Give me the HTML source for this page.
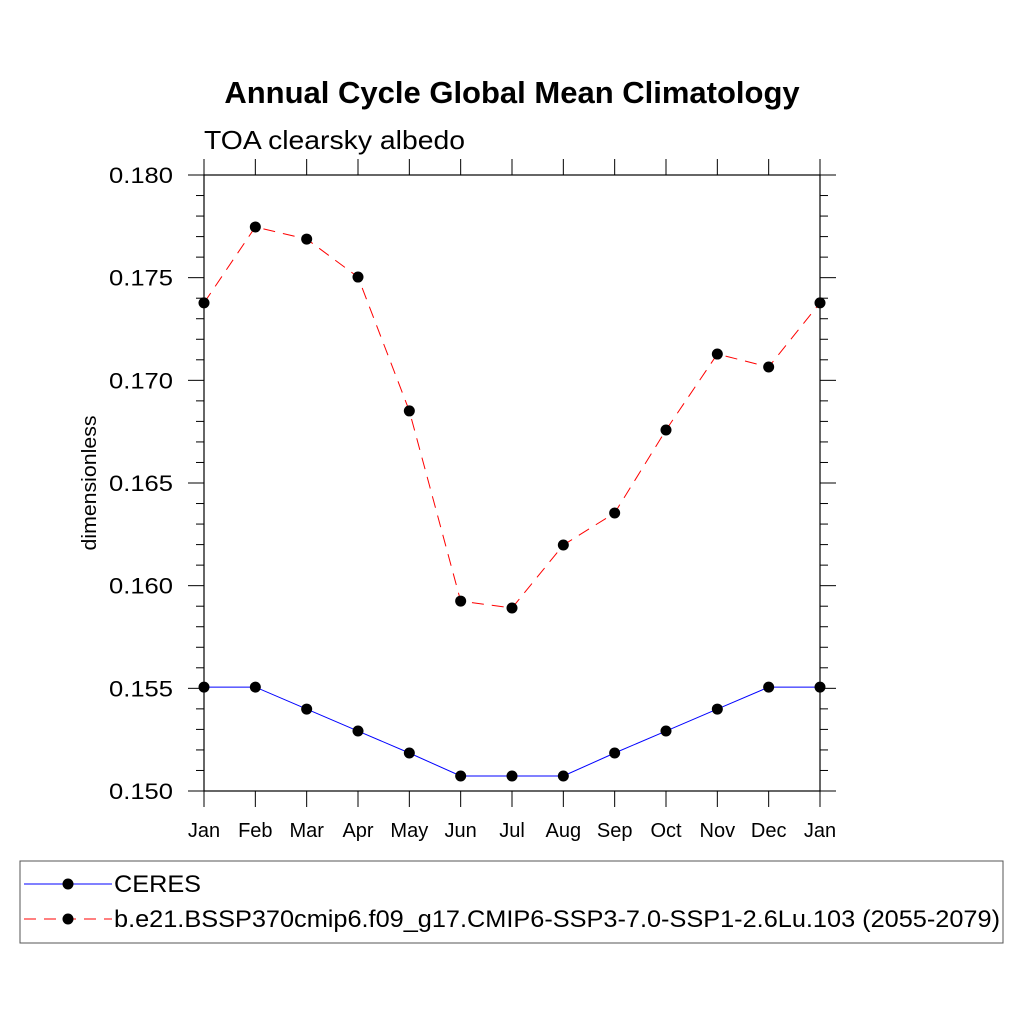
<!DOCTYPE html>
<html><head><meta charset="utf-8"><style>
body{margin:0;background:#fff;}
svg text{font-family:"Liberation Sans",sans-serif;}
</style></head><body>
<svg id="c" width="1024" height="1024" xmlns="http://www.w3.org/2000/svg">
<text x="512" y="103" text-anchor="middle" font-size="31" font-weight="bold">Annual Cycle Global Mean Climatology</text>
<text x="204" y="149" font-size="26" textLength="261" lengthAdjust="spacingAndGlyphs">TOA clearsky albedo</text>
<text transform="translate(96,483) rotate(-90)" text-anchor="middle" font-size="20" textLength="135" lengthAdjust="spacingAndGlyphs">dimensionless</text>
<rect x="204" y="175" width="616" height="616" fill="none" stroke="#000" stroke-width="1.2"/>
<g id="axes"></g>
<g id="series"></g>
<rect x="20" y="861" width="983" height="82" fill="none" stroke="#555" stroke-width="1"/>
<g>
<line x1="24" y1="884" x2="112" y2="884" stroke="#0000ff" stroke-width="1"/>
<circle cx="68" cy="884" r="5.5" fill="#000"/>
<text x="114" y="892" font-size="24" textLength="87" lengthAdjust="spacingAndGlyphs">CERES</text>
</g>
<g>
<line x1="24" y1="919" x2="112" y2="919" stroke="#ff0000" stroke-width="1" stroke-dasharray="12,8"/>
<circle cx="68" cy="919" r="5.5" fill="#000"/>
<text x="114" y="927" font-size="24" textLength="886" lengthAdjust="spacingAndGlyphs">b.e21.BSSP370cmip6.f09_g17.CMIP6-SSP3-7.0-SSP1-2.6Lu.103 (2055-2079)</text>
</g>
</svg>
<script>
const months=["Jan","Feb","Mar","Apr","May","Jun","Jul","Aug","Sep","Oct","Nov","Dec","Jan"];
const ceres=[0.15506,0.15506,0.15399,0.15292,0.15185,0.15073,0.15073,0.15073,0.15185,0.15292,0.15399,0.15506,0.15506];
const model=[0.17377,0.17747,0.17688,0.17503,0.16851,0.15925,0.15891,0.16198,0.16354,0.16758,0.17128,0.17065,0.17377];
const yTicks=["0.150","0.155","0.160","0.165","0.170","0.175","0.180"];
const NS="http://www.w3.org/2000/svg";
const X0=204,X1=820,Y0=791,Y1=175,ymin=0.150,ymax=0.180;
const xs=i=>X0+(X1-X0)*i/(months.length-1);
const ys=v=>Y0-(v-ymin)/(ymax-ymin)*(Y0-Y1);
function mk(t,a,p){const e=document.createElementNS(NS,t);for(const k in a)e.setAttribute(k,a[k]);p.appendChild(e);return e;}
const ax=document.getElementById('axes');
for(let k=0;k<=30;k++){const v=ymin+k*0.001,y=ys(v),maj=k%5===0,L=maj?16:8;
 const l1=mk('line',{x1:X0-L,y1:y,x2:X0,y2:y,stroke:'#000','stroke-width':1},ax);
 
 
 const l2=mk('line',{x1:X1,y1:y,x2:X1+L,y2:y,stroke:'#000','stroke-width':1},ax);
 
 }
yTicks.forEach(s=>{const t=mk('text',{x:X0-31,y:ys(parseFloat(s))+8,'text-anchor':'end','font-size':22,textLength:64,lengthAdjust:'spacingAndGlyphs'},ax);t.textContent=s;
 
 });
months.forEach((m,i)=>{const x=xs(i);
 const a=mk('line',{x1:x,y1:Y0,x2:x,y2:Y0+16,stroke:'#000','stroke-width':1},ax);
 
 
 const b=mk('line',{x1:x,y1:Y1-16,x2:x,y2:Y1,stroke:'#000','stroke-width':1},ax);
 
 
 const t=mk('text',{x:x,y:837,'text-anchor':'middle','font-size':20},ax);t.textContent=m;
 
 });
const sg=document.getElementById('series');
function series(d,col,dash,name){
 const p=mk('polyline',{points:d.map((v,i)=>xs(i)+','+ys(v)).join(' '),fill:'none',stroke:col,'stroke-width':1,'stroke-dasharray':dash},sg);
 
 
 d.forEach((v,i)=>{const c=mk('circle',{cx:xs(i),cy:ys(v),r:5.5,fill:'#000'},sg);
  
  });}
series(model,'#ff0000','12,8','model');
series(ceres,'#0000ff','none','ceres');
</script>
</body></html>
